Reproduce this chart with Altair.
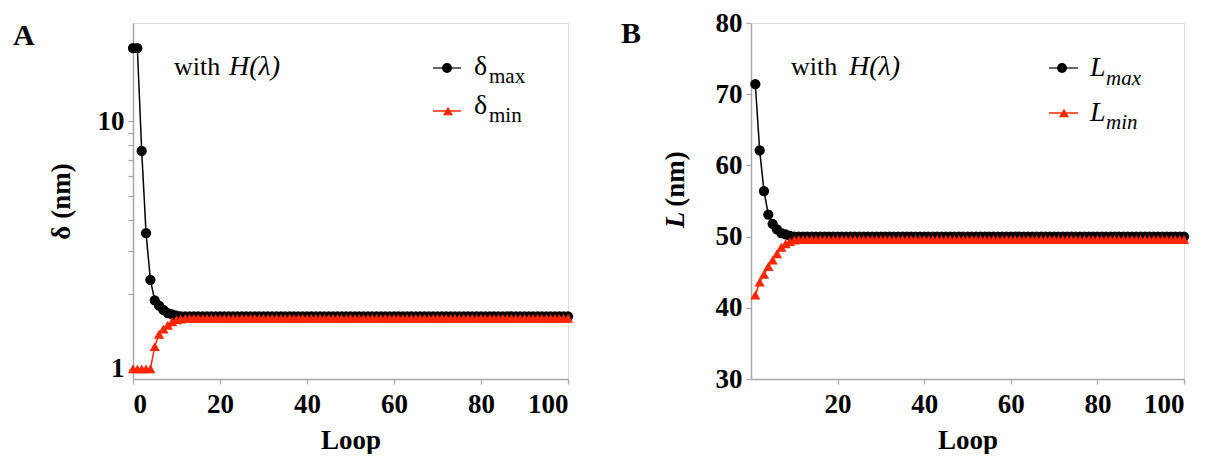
import altair as alt
import pandas as pd

FONT = "Liberation Serif"
RED = "#ff2600"
GRAY = "#a8a8a8"

# ---- Panel A data (log scale) ----
loops_a = list(range(0, 101))
delta_max = [19.8, 19.8, 7.6, 3.54, 2.29, 1.89, 1.80, 1.73, 1.68, 1.66, 1.64] + [1.63] * 90
delta_min = [1.0, 1.0, 1.0, 1.0, 1.0, 1.23, 1.38, 1.45, 1.50, 1.55, 1.58, 1.59] + [1.60] * 89

# ---- Panel B data ----
loops_b = list(range(1, 101))
l_max = [71.4, 62.1, 56.4, 53.1, 51.8, 51.0, 50.5, 50.3, 50.1] + [50.0] * 91
l_min = [41.8, 43.6, 44.7, 45.8, 46.7, 47.6, 48.5, 49.0, 49.3, 49.5] + [49.6] * 90

x_ticks_a = [0, 20, 40, 60, 80, 100]
x_ticks_b = [20, 40, 60, 80, 100]
y_ticks_a = [1, 2, 3, 4, 5, 6, 7, 8, 9, 10]
y_ticks_b = [30, 40, 50, 60, 70, 80]

W, H = 435, 356
one = pd.DataFrame({"k": [0]})


def txt(s, x, y, size=28, weight="normal", style="normal", color="black",
        align="left", baseline="alphabetic", angle=None):
    kw = dict(text=s, font=FONT, fontSize=size, fontWeight=weight, fontStyle=style,
              color=color, align=align, baseline=baseline)
    if angle is not None:
        kw["angle"] = angle
    return alt.Chart(one).mark_text(**kw).encode(x=alt.value(x), y=alt.value(y))


def seg(x1, x2, y, color):
    return alt.Chart(one).mark_rule(color=color, strokeWidth=1.5).encode(
        x=alt.value(x1), x2=alt.value(x2), y=alt.value(y))


def sym(x, y, shape, color):
    return alt.Chart(one).mark_point(shape=shape, filled=True, color=color, size=100,
                                     opacity=1).encode(x=alt.value(x), y=alt.value(y))


def axis_common(**kw):
    base = dict(labelFont=FONT, labelFontSize=27, labelFontWeight="bold", labelColor="black",
                titleFont=FONT, titleFontSize=27, titleFontWeight="bold", titleColor="black",
                domainColor=GRAY, domainWidth=1.5, tickColor=GRAY, tickWidth=1.2, tickSize=5,
                grid=False)
    base.update(kw)
    return alt.Axis(**base)


def panel(loops, vmax, vmin, xaxis, yaxis, yscale):
    df = pd.DataFrame({"Loop": loops, "vmax": vmax, "vmin": vmin})
    xs = alt.Scale(domain=[0, 100], nice=False, zero=False)
    x = alt.X("Loop:Q", scale=xs, axis=xaxis)
    ymax = alt.Y("vmax:Q", scale=yscale, axis=yaxis)
    ymin = alt.Y("vmin:Q", scale=yscale, axis=yaxis)
    b = alt.Chart(df)
    return [
        b.mark_line(color="black", strokeWidth=1.5).encode(x=x, y=ymax),
        b.mark_point(shape="circle", filled=True, color="black", size=105, opacity=1).encode(x=x, y=ymax),
        b.mark_line(color=RED, strokeWidth=1.5).encode(x=x, y=ymin),
        b.mark_point(shape="triangle-up", filled=True, color=RED, size=105, opacity=1).encode(x=x, y=ymin),
    ]


xaxis_a = axis_common(values=x_ticks_a, title="Loop", labelPadding=7, titlePadding=10)
yaxis_a = axis_common(values=y_ticks_a, title="δ (nm)", labelPadding=4, titlePadding=22,
                      labelExpr="datum.value == 1 || datum.value == 10 ? datum.label : ''")
yscale_a = alt.Scale(type="log", domain=[0.91, 25], nice=False)

xaxis_b = axis_common(values=x_ticks_b, title="Loop", labelPadding=7, titlePadding=10)
yaxis_b = axis_common(values=y_ticks_b, title=None, labelPadding=4)
yscale_b = alt.Scale(domain=[30, 80], nice=False, zero=False)

layers_a = panel(loops_a, delta_max, delta_min, xaxis_a, yaxis_a, yscale_a) + [
    txt("A", -120, 22, size=30, weight="bold"),
    txt("with", 41, 52, size=26),
    txt("H(λ)", 96, 52, style="italic"),
    seg(300, 328, 45, "#333333"),
    sym(314, 45, "circle", "black"),
    txt("δ", 341, 52),
    txt("max", 356, 60, size=21),
    seg(300, 328, 88, RED),
    sym(315, 88, "triangle-up", RED),
    txt("δ", 341, 91),
    txt("min", 356, 99, size=21),
]

layers_b = panel(loops_b, l_max, l_min, xaxis_b, yaxis_b, yscale_b) + [
    txt("B", -130, 20, size=30, weight="bold"),
    txt("L", -75, 197, size=27, weight="bold", style="italic", align="center",
        baseline="middle", angle=270),
    txt("(nm)", -75, 156, size=27, weight="bold", align="center", baseline="middle", angle=270),
    txt("with", 40, 52, size=26),
    txt("H(λ)", 98, 52, style="italic"),
    seg(298, 327, 45, "#333333"),
    sym(311, 45, "circle", "black"),
    txt("L", 339, 53, style="italic"),
    txt("max", 355, 62, size=21, style="italic"),
    seg(298, 327, 90, RED),
    sym(313, 90, "triangle-up", RED),
    txt("L", 339, 98, style="italic"),
    txt("min", 355, 106, size=21, style="italic"),
]

chart_a = alt.layer(*layers_a).properties(width=W, height=H)
chart_b = alt.layer(*layers_b).properties(width=433, height=H)

chart = alt.hconcat(chart_a, chart_b, spacing=46).properties(
    padding={"left": 4, "top": 0, "right": 0, "bottom": 0}
).configure_view(stroke="#c4c4c4", strokeWidth=1.5).configure(background="white")

chart.save("out.html", embed_options={"renderer": "svg", "actions": False})
